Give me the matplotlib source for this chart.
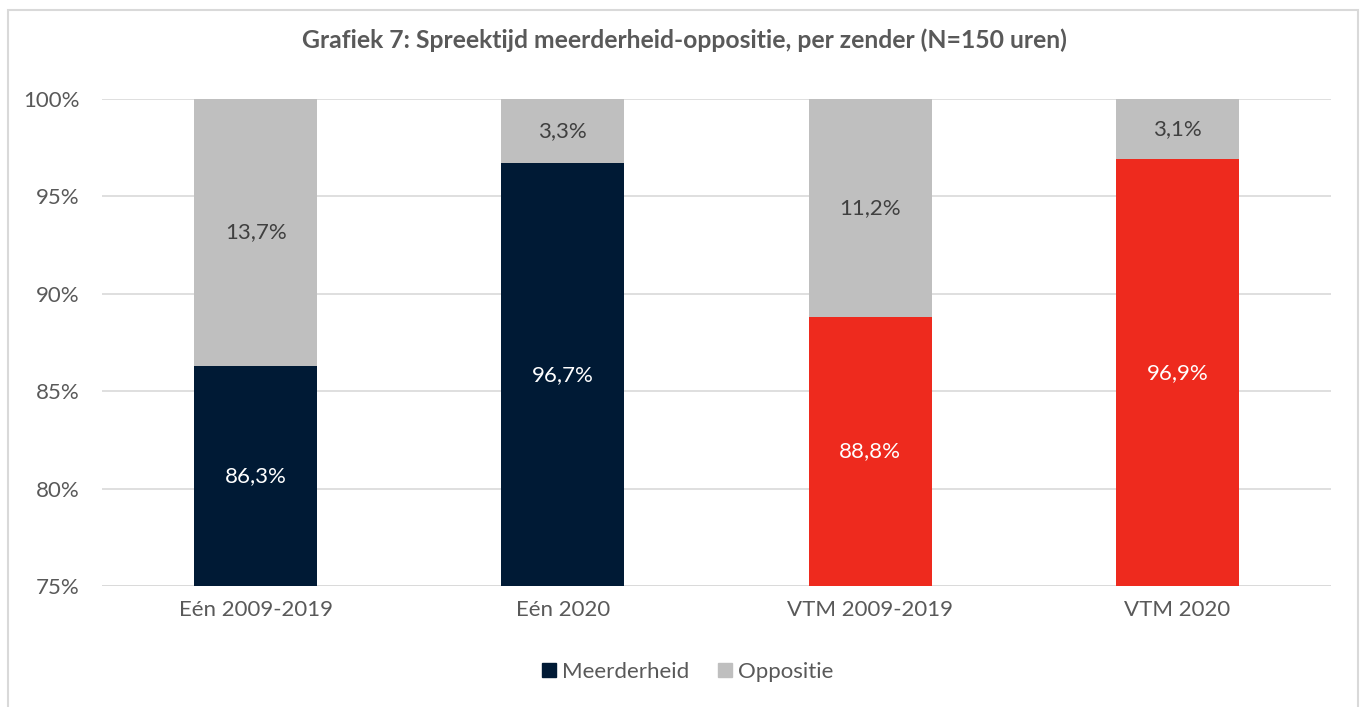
import matplotlib.pyplot as plt
from matplotlib.patches import Rectangle
import numpy as np

categories = ['Eén 2009-2019', 'Eén 2020', 'VTM 2009-2019', 'VTM 2020']
meerderheid = [86.3, 96.7, 88.8, 96.9]
oppositie = [13.7, 3.3, 11.2, 3.1]
bar_colors = ['#001A35', '#001A35', '#EE2A1E', '#EE2A1E']
oppo_color = '#BFBFBF'
text_color = '#595959'

plt.rcParams['font.family'] = ['Lato', 'DejaVu Sans']

fig = plt.figure(figsize=(13.62, 7.07), dpi=100)
ax = fig.add_axes([102/1362, 1-586/707, (1331-102)/1362, (586-99)/707])

x = np.arange(len(categories))
w = 0.4
ax.bar(x, meerderheid, w, color=bar_colors, zorder=2)
ax.bar(x, oppositie, w, bottom=meerderheid, color=oppo_color, zorder=2)

def fmt(v):
    return ('%.1f%%' % v).replace('.', ',')

for i in range(len(x)):
    ax.text(x[i], (75 + meerderheid[i]) / 2, fmt(meerderheid[i]), ha='center', va='center',
            color='white', fontsize=16)
    ax.text(x[i], meerderheid[i] + oppositie[i] / 2, fmt(oppositie[i]), ha='center', va='center',
            color='#404040', fontsize=16)

ax.set_ylim(75, 100)
ax.set_xlim(-0.5, 3.5)
ax.set_yticks([75, 80, 85, 90, 95, 100])
ax.set_yticklabels(['%d%%' % t for t in [75, 80, 85, 90, 95, 100]])
ax.set_xticks(x)
ax.set_xticklabels(categories)
ax.tick_params(axis='both', length=0, labelsize=16, labelcolor=text_color)
ax.tick_params(axis='y', pad=16)
ax.tick_params(axis='x', pad=10)
ax.yaxis.grid(True, color='#D9D9D9', lw=1.2, zorder=0)
for s in ax.spines.values():
    s.set_visible(False)
ax.axhline(75, color='#D9D9D9', lw=1.2, zorder=1)

fig.text(684/1362, 1-40/707, 'Grafiek 7: Spreektijd meerderheid-oppositie, per zender (N=150 uren)',
         ha='center', va='center', fontsize=17.8, fontweight='bold', color=text_color)

handles = [Rectangle((0, 0), 1, 1, color='#001A35'), Rectangle((0, 0), 1, 1, color=oppo_color)]
fig.legend(handles, ['Meerderheid', 'Oppositie'], loc='center', bbox_to_anchor=(688/1362, 1-672/707),
           ncol=2, frameon=False, fontsize=16, labelcolor=text_color, handlelength=0.6,
           handleheight=0.6, handletextpad=0.3, columnspacing=1.3)

fig.patches.append(Rectangle((8/1362, -0.01), (1358-8)/1362, 1.01-10/707, transform=fig.transFigure,
                             fill=False, edgecolor='#D9D9D9', lw=1.5))

fig.savefig('out.png', dpi=100)
